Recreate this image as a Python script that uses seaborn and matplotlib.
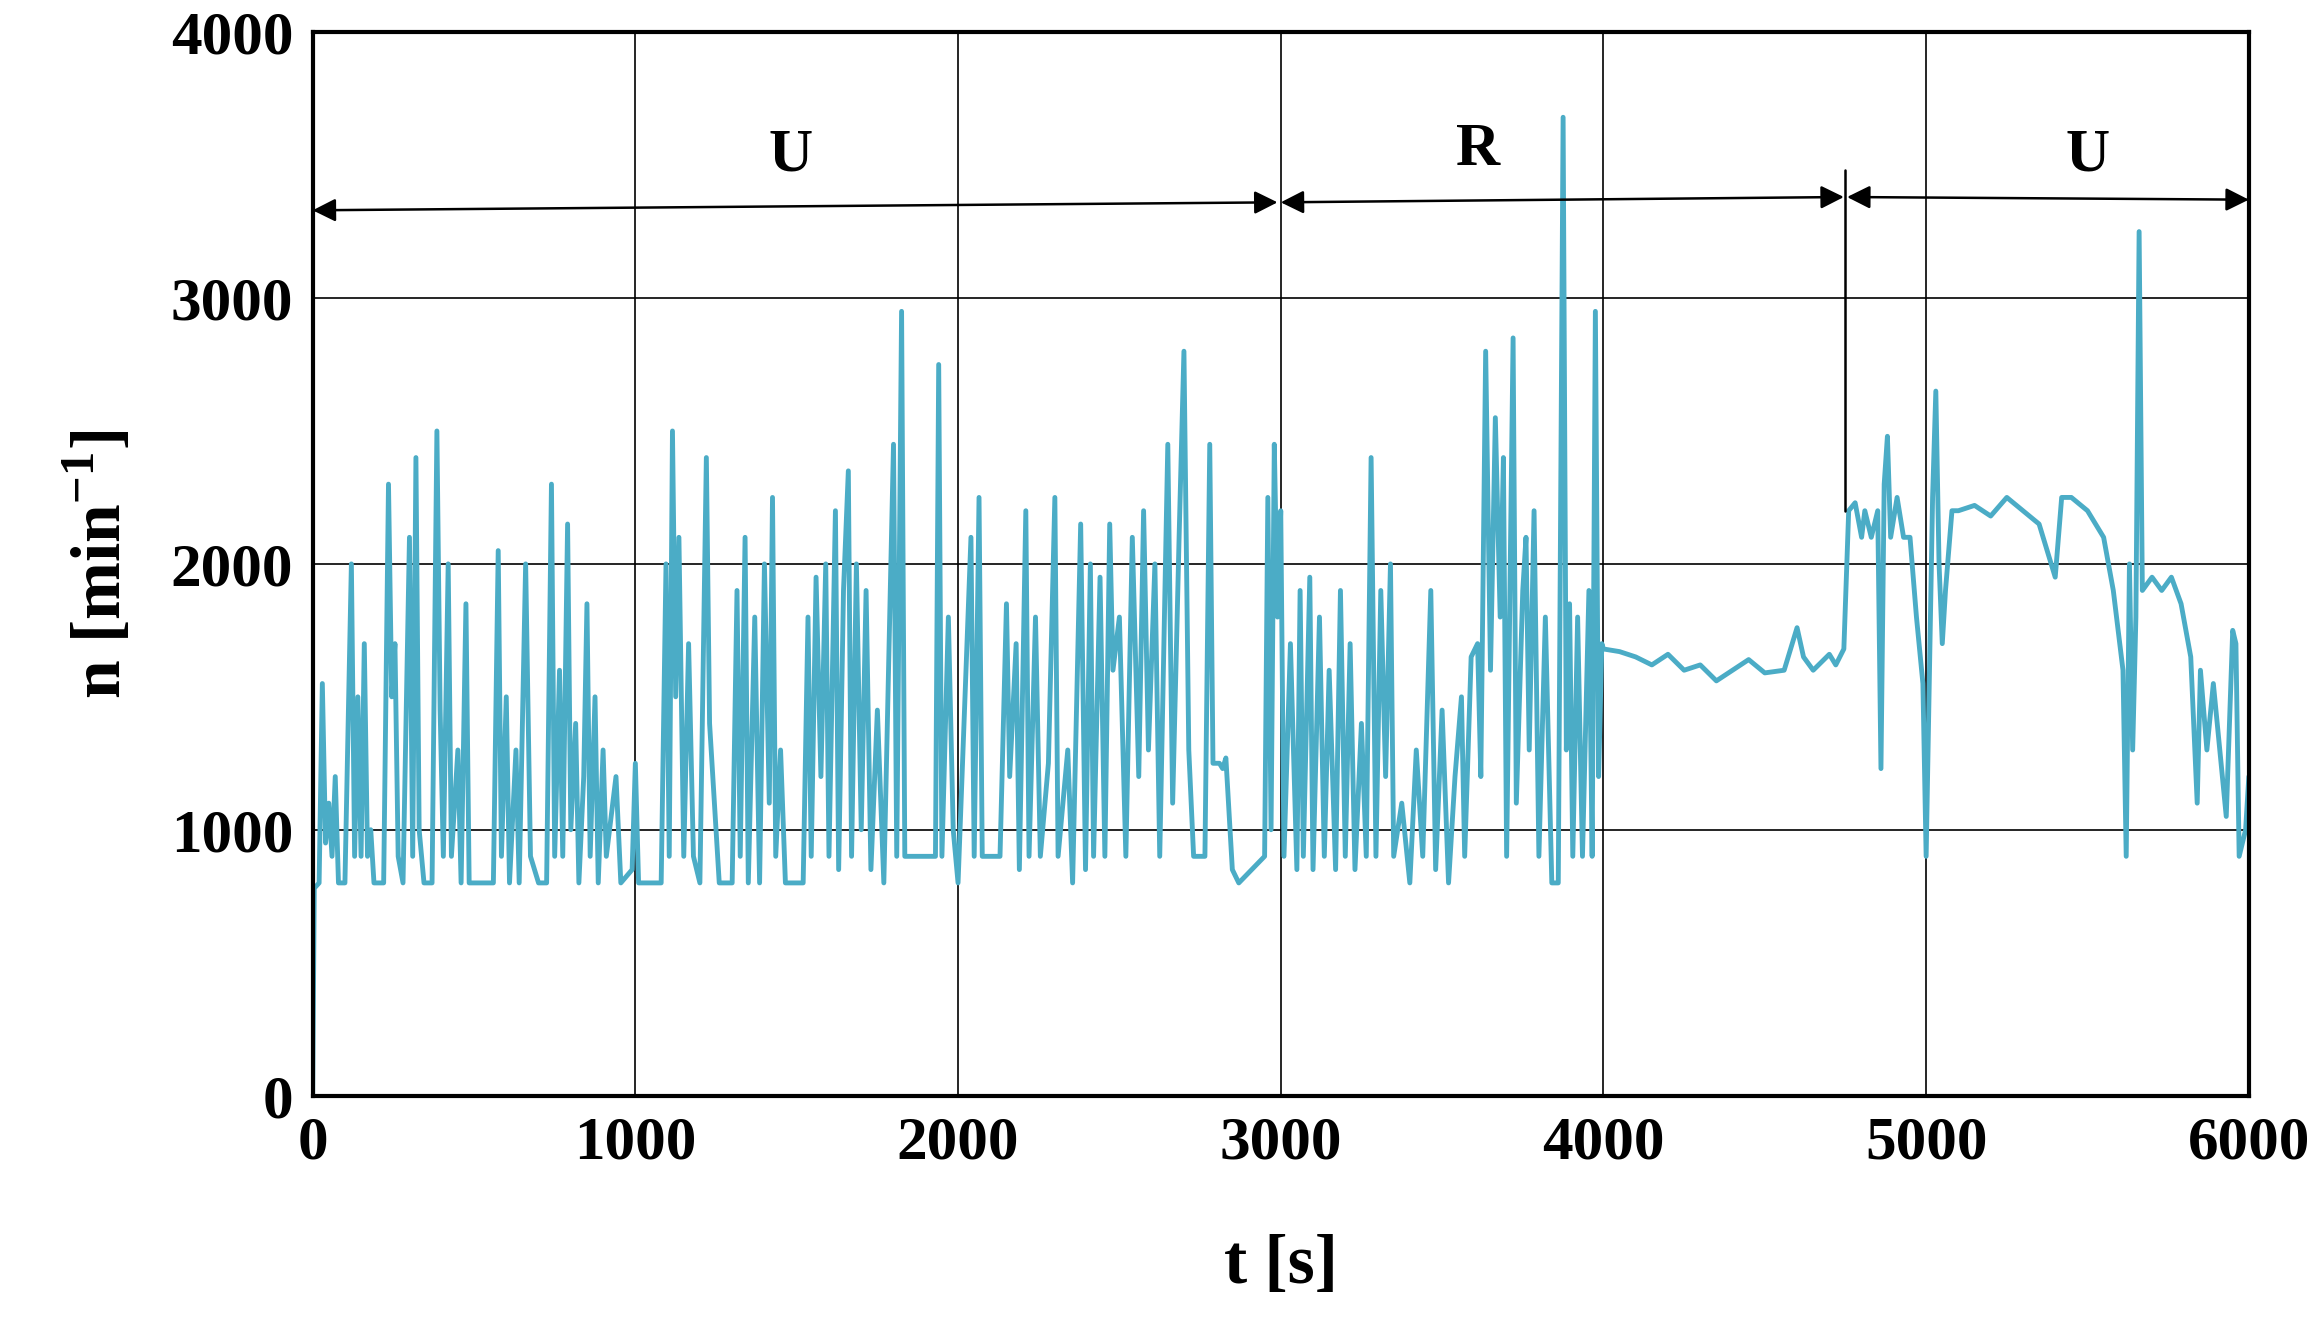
import numpy as np
import pandas as pd
import seaborn as sns
import matplotlib.pyplot as plt

t = [0, 5, 20, 30, 40, 50, 60, 70, 80, 100, 120, 130, 140, 150, 160, 170, 180, 190, 220, 235, 245, 255, 265, 280,
     300, 310, 320, 330, 345, 370, 385, 395, 405, 420, 430, 450, 460, 475, 485, 560, 575, 585, 600, 610, 630, 640,
     660, 675, 700, 725, 740, 750, 765, 775, 790, 800, 815, 825, 840, 850, 860, 875, 885, 900, 910, 920, 940, 955,
     990, 1000, 1010, 1080, 1095, 1105, 1115, 1125, 1135, 1150, 1165, 1180, 1200, 1220, 1230, 1245, 1260, 1300,
     1315, 1325, 1340, 1350, 1370, 1385, 1400, 1415, 1425, 1435, 1450, 1465, 1520, 1535, 1545, 1560, 1575, 1590,
     1600, 1620, 1630, 1645, 1660, 1670, 1685, 1700, 1715, 1730, 1750, 1770, 1800, 1810, 1825, 1835, 1870, 1930,
     1940, 1950, 1970, 1985, 2000, 2040, 2050, 2065, 2075, 2130, 2150, 2160, 2180, 2190, 2210, 2220, 2240, 2255,
     2280, 2300, 2310, 2340, 2355, 2380, 2395, 2410, 2420, 2440, 2455, 2470, 2480, 2500, 2520, 2540, 2560, 2575,
     2590, 2610, 2625, 2650, 2665, 2685, 2700, 2715, 2730, 2765, 2780, 2790, 2810, 2820, 2830, 2850, 2870, 2950,
     2960, 2970, 2980, 2990, 3000, 3010, 3030, 3050, 3060, 3070, 3090, 3100, 3120, 3135, 3150, 3170, 3185, 3200,
     3215, 3230, 3250, 3265, 3280, 3295, 3310, 3325, 3340, 3350, 3375, 3400, 3420, 3440, 3465, 3480, 3500, 3520,
     3540, 3560, 3570, 3590, 3610, 3620, 3635, 3650, 3665, 3680, 3690, 3700, 3720, 3730, 3750, 3760, 3770, 3785,
     3800, 3820, 3840, 3860, 3875, 3885, 3895, 3905, 3920, 3935, 3955, 3965, 3975, 3985, 3995,
     4000, 4050, 4100, 4150, 4200, 4250, 4300, 4350, 4400, 4450, 4500, 4560, 4600, 4620, 4650, 4700, 4720, 4745,
     4760, 4780, 4800, 4810, 4830, 4850, 4860, 4870, 4880, 4890, 4910, 4930, 4950, 4970, 4990, 5000, 5020, 5030,
     5040, 5050, 5060, 5080, 5100, 5150, 5200, 5250, 5300, 5350, 5400, 5420, 5450, 5500, 5550, 5580, 5610, 5620,
     5630, 5640, 5650, 5660, 5670, 5700, 5730, 5760, 5790, 5820, 5840, 5850, 5870, 5890, 5910, 5930, 5950, 5960,
     5970, 5990, 6000]
n = [0, 780, 800, 1550, 950, 1100, 900, 1200, 800, 800, 2000, 900, 1500, 900, 1700, 900, 1000, 800, 800, 2300, 1500, 1700, 900, 800,
     2100, 900, 2400, 1000, 800, 800, 2500, 1450, 900, 2000, 900, 1300, 800, 1850, 800, 800, 2050, 900, 1500, 800, 1300, 800,
     2000, 900, 800, 800, 2300, 900, 1600, 900, 2150, 1000, 1400, 800, 1200, 1850, 900, 1500, 800, 1300, 900, 1000, 1200, 800,
     850, 1250, 800, 800, 2000, 900, 2500, 1500, 2100, 900, 1700, 900, 800, 2400, 1400, 1100, 800, 800,
     1900, 900, 2100, 800, 1800, 800, 2000, 1100, 2250, 900, 1300, 800, 800, 1800, 900, 1950, 1200, 2000,
     900, 2200, 850, 1900, 2350, 900, 2000, 1000, 1900, 850, 1450, 800, 2450, 900, 2950, 900, 900, 900,
     2750, 900, 1800, 1000, 800, 2100, 900, 2250, 900, 900, 1850, 1200, 1700, 850, 2200, 900, 1800, 900,
     1250, 2250, 900, 1300, 800, 2150, 850, 2000, 900, 1950, 900, 2150, 1600, 1800, 900, 2100, 1200, 2200,
     1300, 2000, 900, 2450, 1100, 2100, 2800, 1300, 900, 900, 2450, 1250, 1250, 1230, 1270, 850, 800, 900,
     2250, 1000, 2450, 1800, 2200, 900, 1700, 850, 1900, 900, 1950, 850, 1800, 900, 1600, 850, 1900, 900,
     1700, 850, 1400, 900, 2400, 900, 1900, 1200, 2000, 900, 1100, 800, 1300, 900, 1900, 850, 1450, 800,
     1200, 1500, 900, 1650, 1700, 1200, 2800, 1600, 2550, 1800, 2400, 900, 2850, 1100, 1900, 2100, 1300, 2200,
     900, 1800, 800, 800, 3680, 1300, 1850, 900, 1800, 900, 1900, 900, 2950, 1200, 1700,
     1680, 1670, 1650, 1620, 1660, 1600, 1620, 1560, 1600, 1640, 1590, 1600, 1760, 1650, 1600, 1660, 1620, 1680,
     2200, 2230, 2100, 2200, 2100, 2200, 1230, 2300, 2480, 2100, 2250, 2100, 2100, 1800, 1550, 900, 2250, 2650,
     2000, 1700, 1900, 2200, 2200, 2220, 2180, 2250, 2200, 2150, 1950, 2250, 2250, 2200, 2100, 1900, 1600, 900,
     2000, 1300, 1800, 3250, 1900, 1950, 1900, 1950, 1850, 1650, 1100, 1600, 1300, 1550, 1300, 1050, 1750, 1700,
     900, 1000, 1200]

df = pd.DataFrame({'t': t, 'n': n})

sns.set_style('white')
plt.rcParams['font.family'] = ['Liberation Serif', 'DejaVu Serif']
plt.rcParams['mathtext.fontset'] = 'custom'
plt.rcParams['mathtext.bf'] = 'Liberation Serif:bold'
plt.rcParams['mathtext.rm'] = 'Liberation Serif:bold'
plt.rcParams['text.color'] = 'black'
plt.rcParams['xtick.color'] = 'black'
plt.rcParams['ytick.color'] = 'black'
plt.rcParams['axes.labelcolor'] = 'black'

fig = plt.figure(figsize=(23.16, 13.41), dpi=100)
ax = fig.add_axes([0.135, 0.183, 0.836, 0.793])
sns.lineplot(data=df, x='t', y='n', sort=False, color='#4bacc6', linewidth=3.5, ax=ax)

ax.set_xlim(0, 6000)
ax.set_ylim(0, 4000)
ax.set_xticks(range(0, 6001, 1000))
ax.set_yticks(range(0, 4001, 1000))
ax.grid(True, color='black', linewidth=1.2)
for s in ax.spines.values():
    s.set_color('black')
    s.set_linewidth(3)
ax.tick_params(labelsize=44, pad=14, length=0)
for lab in ax.get_xticklabels() + ax.get_yticklabels():
    lab.set_fontweight('bold')
ax.set_xlabel('t [s]', fontsize=50, fontweight='bold', labelpad=45)
ax.set_ylabel('n [min$^{-1}$]', fontsize=50, fontweight='bold', labelpad=25)

# Abschnitte U / R / U
arr = dict(arrowstyle='<|-|>', color='black', lw=1.8, mutation_scale=35, shrinkA=0, shrinkB=0)
ax.annotate('', xy=(0, 3330), xytext=(2990, 3360), arrowprops=arr)
ax.annotate('', xy=(3000, 3360), xytext=(4745, 3380), arrowprops=arr)
ax.annotate('', xy=(4755, 3380), xytext=(6000, 3370), arrowprops=arr)
ax.plot([4750, 4750], [2200, 3480], color='black', lw=1.8)
ax.text(1480, 3480, 'U', fontsize=44, fontweight='bold', ha='center')
ax.text(3610, 3500, 'R', fontsize=44, fontweight='bold', ha='center')
ax.text(5500, 3480, 'U', fontsize=44, fontweight='bold', ha='center')

fig.savefig('out.png', dpi=100)
